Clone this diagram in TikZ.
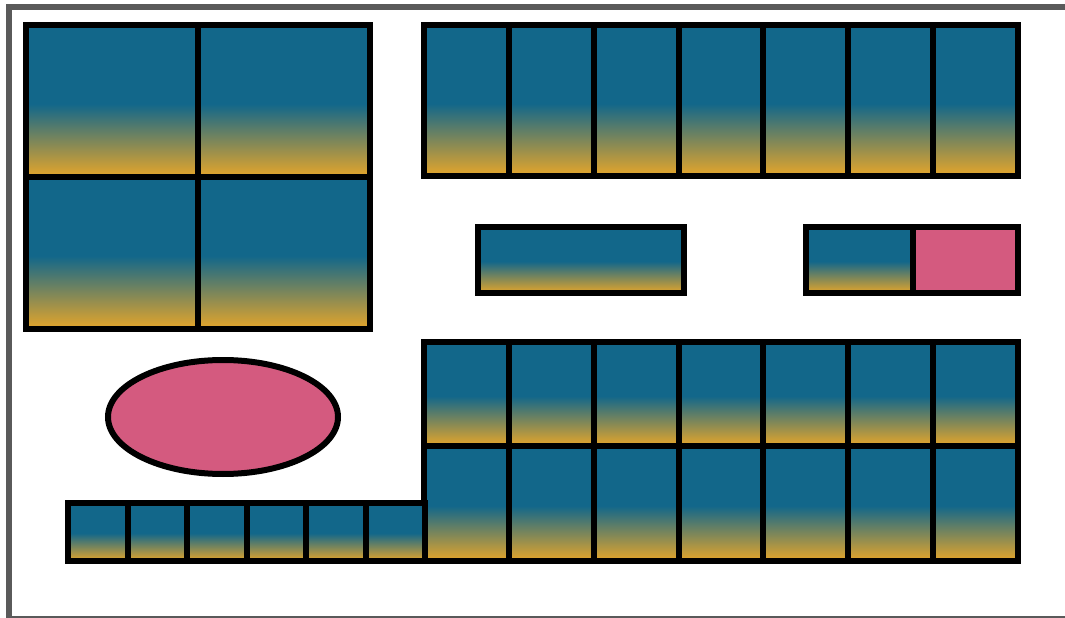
\documentclass[tikz,border=0pt]{standalone}
\usepackage{tikz}
\usepackage{xcolor}
\definecolor{Cell_Blue}{HTML}{12678A}
\definecolor{Cell_Gold}{HTML}{D9A230}
\definecolor{Cell_Rose}{HTML}{D45A7F}
\definecolor{Frame_Gray}{HTML}{5A5A5A}
\pgfdeclareverticalshading{bluegold}{100bp}{color(0bp)=(Cell_Gold); color(26.5bp)=(Cell_Gold); color(49bp)=(Cell_Blue); color(100bp)=(Cell_Blue)}

\begin{document}
\begin{tikzpicture}[x=0.02cm, y=-0.02cm,
    cell/.style={shading=bluegold, draw=black, line width=0.12cm},
    rosecell/.style={fill=Cell_Rose, draw=black, line width=0.12cm}]
    \useasboundingbox (0,0) rectangle (1065,618);
    \clip (0,0) rectangle (1065,618);
    % Outer frame
    \draw[Frame_Gray, line width=0.12cm] (9,7) rectangle (1085,619);
    % Big 2x2 block, top left
    \foreach \i in {0,1}
        \foreach \j in {0,1}
            \shadedraw[cell] (26+172*\i,25+152*\j) rectangle ++(172,152);
    % Top row of seven
    \foreach \i in {0,...,6}
        \shadedraw[cell] (424+84.857*\i,25) rectangle ++(84.857,151);
    % Middle bar
    \shadedraw[cell] (478,227) rectangle (684,293);
    % Right pair
    \shadedraw[cell] (806,227) rectangle (913,293);
    \filldraw[rosecell] (913,227) rectangle (1018,293);
    % Lower grid, two rows of seven
    \foreach \i in {0,...,6} {
        \shadedraw[cell] (424+84.857*\i,342) rectangle ++(84.857,104);
        \shadedraw[cell] (424+84.857*\i,446) rectangle ++(84.857,115);
    }
    % Small row of six
    \foreach \i in {0,...,5}
        \shadedraw[cell] (68+59.5*\i,503) rectangle ++(59.5,58);
    % Ellipse
    \filldraw[rosecell] (223,417) ellipse [x radius=115, y radius=57];
\end{tikzpicture}
\end{document}
